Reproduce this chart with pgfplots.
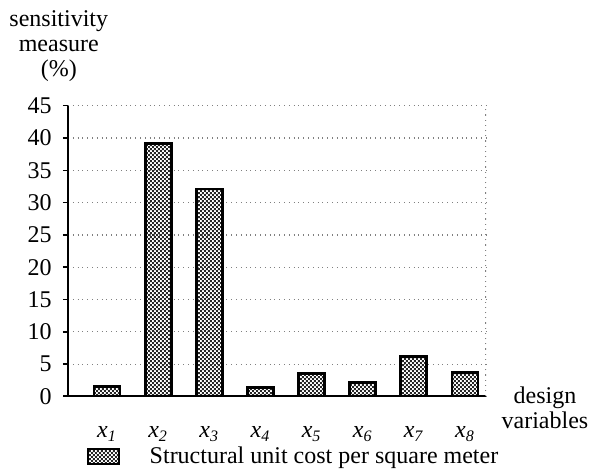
\documentclass[border=0pt]{standalone}
\usepackage{pgfplots}
\pgfplotsset{compat=1.18}
\usetikzlibrary{patterns}
\usepackage{fontspec}
\setmainfont{Liberation Serif}
\pgfdeclarepatternformonly{checker}{\pgfpointorigin}{\pgfqpoint{2.2pt}{2.2pt}}{\pgfqpoint{2.2pt}{2.2pt}}{%
  \pgfpathrectangle{\pgfpointorigin}{\pgfqpoint{1.1pt}{1.1pt}}%
  \pgfpathrectangle{\pgfqpoint{1.1pt}{1.1pt}}{\pgfqpoint{1.1pt}{1.1pt}}%
  \pgfusepath{fill}}
\begin{document}
\fontsize{12pt}{12.5pt}\selectfont
\begin{tikzpicture}
\useasboundingbox (-34pt,-36.75pt) rectangle (263pt,198.25pt);
\begin{axis}[
  at={(0,0)}, anchor=south west,
  scale only axis,
  width=209pt, height=145.4pt,
  xmin=0.237, xmax=8.41,
  ymin=0, ymax=45,
  ytick={0,5,...,45},
  xtick={1,...,8},
  xticklabels={
    {\textit{x}\textsubscript{\textit{1}}},
    {\textit{x}\textsubscript{\textit{2}}},
    {\textit{x}\textsubscript{\textit{3}}},
    {\textit{x}\textsubscript{\textit{4}}},
    {\textit{x}\textsubscript{\textit{5}}},
    {\textit{x}\textsubscript{\textit{6}}},
    {\textit{x}\textsubscript{\textit{7}}},
    {\textit{x}\textsubscript{\textit{8}}}},
  /pgf/number format/assume math mode=true,
  font=\fontsize{12pt}{12.5pt}\selectfont,
  ticklabel style={font=\fontsize{12pt}{12.5pt}\selectfont},
  axis x line*=bottom,
  axis y line*=left,
  axis line style={line width=1pt, black},
  x axis line style={shorten <=-2.5pt},
  ymajorgrids,
  grid style={gray, dotted, line width=0.6pt},
  ytick style={black, line width=0.8pt},
  tick align=outside,
  major tick length=2.5pt,
  xtick style={draw=none},
  xticklabel style={yshift=-8.5pt},
  yticklabel style={xshift=-1.5pt},
  ybar,
  bar width=13pt,
  ylabel={sensitivity\\measure\\(\%)},
  ylabel style={rotate=-90, align=center, anchor=center, at={(axis description cs:-0.022,1.205)}, font=\fontsize{12pt}{12.5pt}\selectfont},
  xlabel={design\\variables},
  xlabel style={align=center, anchor=center, at={(axis description cs:1.141,-0.039)}, font=\fontsize{12pt}{12.5pt}\selectfont},
  legend style={draw=none, fill=none, at={(axis description cs:0.03,-0.143)}, anchor=north west, font=\fontsize{12pt}{12.5pt}\selectfont, legend cell align=left},
  legend image code/.code={\draw[#1, line width=0.9pt] (0pt,-3.75pt) rectangle (15.5pt,3.75pt);},
]
\addplot[draw=black, line width=1.4pt, pattern=checker, pattern color=black!85]
  coordinates {(1,1.5) (2,39.2) (3,32.1) (4,1.4) (5,3.5) (6,2.2) (7,6.2) (8,3.7)};
\addlegendentry{\hspace*{13pt}Structural unit cost per square meter}
\draw[gray, dotted, line width=0.6pt] (rel axis cs:1,0) -- (rel axis cs:1,1);
\end{axis}
\end{tikzpicture}
\end{document}
